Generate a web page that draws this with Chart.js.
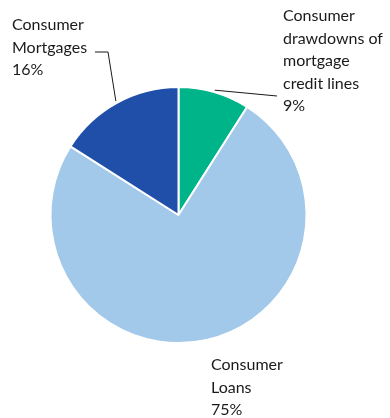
<!DOCTYPE html>
<html>
<head>
<meta charset="utf-8">
<script src="https://cdn.jsdelivr.net/npm/chart.js@4/dist/chart.umd.min.js"></script>
<style>
    html, body { margin: 0; padding: 0; background: #fff; }
    #wrap { width: 390px; height: 418px; position: relative; }
</style>
</head>
<body>
<div id="wrap"><canvas id="chartShare"></canvas></div>
<script>
// Porcentajes por tipo de crédito al consumo
const categories = ['Consumer drawdowns of mortgage credit lines', 'Consumer Loans', 'Consumer Mortgages'];
const labelLines = [
    ['Consumer', 'drawdowns of', 'mortgage', 'credit lines'],
    ['Consumer', 'Loans'],
    ['Consumer', 'Mortgages']
];
const shares = [9, 75, 16];
const colors = ['#00b48a', '#a2c8ea', '#1f4fa8'];

const FONT = '16px Lato, sans-serif';
const LINE_H = 22.5;

// Etiquetas con líneas guía dibujadas sobre el canvas
const labelPlugin = {
    id: 'sliceLabels',
    afterDraw(chart) {
        const ctx = chart.ctx;
        const arcs = chart.getDatasetMeta(0).data;
        ctx.save();
        ctx.font = FONT;
        ctx.fillStyle = '#1a1a1a';
        ctx.textBaseline = 'middle';
        ctx.strokeStyle = '#1a1a1a';
        ctx.lineWidth = 1;

        const edge = (arc, extra) => {
            const a = (arc.startAngle + arc.endAngle) / 2;
            return { x: arc.x + Math.cos(a) * (arc.outerRadius + extra), y: arc.y + Math.sin(a) * (arc.outerRadius + extra) };
        };

        // 0: drawdowns (arriba a la derecha)
        let p = edge(arcs[0], 2);
        ctx.beginPath();
        ctx.moveTo(p.x, p.y);
        ctx.lineTo(277, 96);
        ctx.stroke();
        drawBlock(ctx, labelLines[0], shares[0], 283, 16);

        // 2: mortgages (arriba a la izquierda)
        p = edge(arcs[2], 2);
        ctx.beginPath();
        ctx.moveTo(p.x, p.y);
        ctx.lineTo(108, 52);
        ctx.lineTo(95, 52);
        ctx.stroke();
        drawBlock(ctx, labelLines[2], shares[2], 12, 25);

        // 1: loans (abajo)
        drawBlock(ctx, labelLines[1], shares[1], 211, 365);
        ctx.restore();
    }
};

function drawBlock(ctx, lines, value, x, y) {
    const all = lines.concat([value + '%']);
    all.forEach((t, i) => ctx.fillText(t, x, y + i * LINE_H));
}

new Chart(document.getElementById('chartShare'), {
    type: 'pie',
    data: {
        labels: categories,
        datasets: [{
            data: shares,
            backgroundColor: colors,
            borderColor: '#ffffff',
            borderWidth: 2
        }]
    },
    options: {
        responsive: true,
        maintainAspectRatio: false,
        animation: false,
        layout: { padding: { left: 49, right: 82, top: 86, bottom: 74 } },
        plugins: {
            legend: { display: false },
            tooltip: { enabled: false }
        }
    },
    plugins: [labelPlugin]
});
</script>
</body>
</html>
